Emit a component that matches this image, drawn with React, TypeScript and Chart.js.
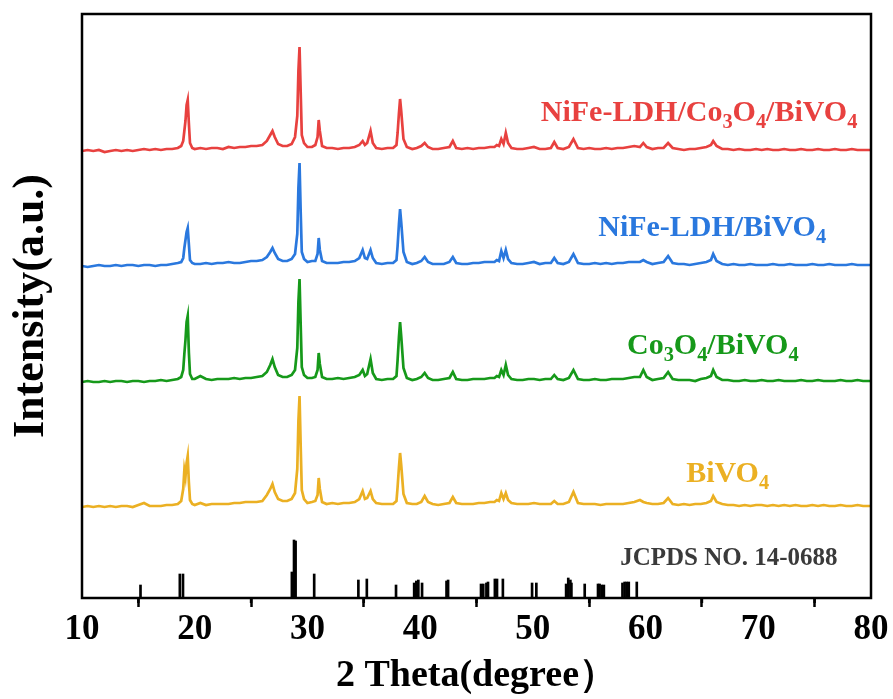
import { useEffect, useRef } from "react";
import { Chart, registerables } from "chart.js";

Chart.register(...registerables);

// 2θ grid (degrees), shared by all four patterns
const theta = [
  10, 10.5, 11, 11.5, 12, 12.5, 13, 13.5, 14, 14.5, 15, 15.5, 16, 16.5, 17, 17.5, 18,
  18.5, 18.8, 18.98, 19.08, 19.18, 19.28, 19.38, 19.48, 19.58, 19.78,
  20, 20.5, 21, 21.5, 22, 22.5, 23, 23.5, 24, 24.5, 25, 25.5, 26,
  26.4, 26.7, 26.9, 27.1, 27.4, 27.8, 28.2, 28.6,
  28.9, 29.1, 29.2, 29.3, 29.4, 29.5, 29.7,
  30.0, 30.4, 30.7, 30.9, 31.0, 31.1, 31.3,
  31.7, 32.2, 32.7, 33.2, 33.7, 34.2, 34.6,
  34.9, 35.1, 35.3, 35.6, 35.8, 36.1,
  36.6, 37.1, 37.6, 37.9,
  38.0, 38.12, 38.22, 38.32, 38.52, 38.82,
  39.3, 39.7, 40.1, 40.4, 40.7, 41.1,
  41.6, 42.1, 42.6, 42.9, 43.2,
  43.7, 44.2, 44.7, 45.2, 45.7, 46.2, 46.6,
  46.8, 47.0, 47.2, 47.4, 47.6, 47.8, 48.1,
  48.6, 49.1, 49.6, 50.1, 50.6, 51.1, 51.6,
  51.9, 52.2, 52.7, 53.2, 53.6, 54.0,
  54.5, 55.0, 55.5, 56.0, 56.5, 57.0, 57.5, 58.0, 58.5, 59.0, 59.5,
  59.8, 60.1, 60.6, 61.1, 61.6, 62.0, 62.4,
  62.9, 63.4, 63.9, 64.4, 64.9, 65.4, 65.8,
  66.0, 66.3, 66.8,
  67.3, 67.8, 68.3, 68.8, 69.3, 69.8, 70.3, 70.8, 71.3, 71.8, 72.3, 72.8, 73.3, 73.8, 74.3, 74.8, 75.3, 75.8, 76.3, 76.8, 77.3, 77.8, 78.3, 78.8, 79.3,
  79.7, 80,
];

// intensities (a.u.), each relative to its own pattern baseline
const intensityNiFeCoBi = [
  0, 1, 0, 1, -1, 0, 1, 0, 1, 0, 1, 2, 1, 2, 1, 2, 2,
  3, 5, 10, 20, 30, 46, 51, 28, 8, 3,
  2, 3, 2, 3, 3, 2, 4, 3, 4, 4, 5, 5, 6,
  10, 16, 20, 14, 7, 5, 5, 7,
  14, 35, 80, 104, 60, 16, 8,
  4, 4, 6, 14, 31, 20, 5,
  3, 3, 2, 3, 3, 4, 6,
  10, 6, 8, 20, 8, 3,
  2, 3, 3, 6,
  18, 38, 52, 40, 12, 4,
  2, 3, 5, 8, 4, 2,
  2, 3, 4, 10, 3,
  2, 3, 2, 3, 3, 4, 4,
  6, 5, 12, 7, 18, 8, 3,
  2, 2, 3, 4, 2, 2, 3,
  9, 3, 2, 4, 12, 3,
  2, 3, 2, 2, 3, 2, 3, 3, 4, 5, 4,
  8, 4, 2, 3, 3, 8, 3,
  2, 1, 2, 2, 3, 4, 6,
  10, 5, 2,
  2, 1, 2, 1, 1, 2, 1, 2, 1, 1, 2, 1, 1, 2, 1, 1, 2, 1, 1, 2, 1, 1, 2, 1, 1,
  1, 1,
];

const intensityNiFeBi = [
  0, -1, 0, 1, 0, 0, 1, 0, 1, 1, 0, 1, 1, 0, 1, 1, 2,
  3, 4, 8, 18, 26, 34, 38, 22, 6, 3,
  2, 2, 3, 2, 3, 3, 4, 3, 3, 4, 5, 5, 6,
  9, 14, 18, 13, 7, 5, 5, 7,
  12, 32, 78, 103, 55, 14, 7,
  4, 5, 5, 12, 28, 16, 5,
  3, 3, 3, 4, 4, 5, 8,
  16, 8, 7, 16, 8, 3,
  2, 3, 3, 6,
  20, 42, 57, 44, 14, 4,
  2, 3, 5, 9, 4, 2,
  2, 2, 4, 9, 3,
  2, 2, 3, 3, 4, 4, 4,
  6, 5, 15, 8, 16, 7, 3,
  2, 2, 3, 4, 2, 3, 3,
  8, 3, 2, 4, 12, 3,
  2, 2, 3, 2, 3, 2, 3, 3, 4, 4, 4,
  6, 4, 2, 3, 4, 10, 3,
  2, 2, 1, 2, 3, 4, 6,
  12, 5, 2,
  1, 2, 1, 1, 2, 1, 1, 1, 2, 1, 1, 2, 1, 1, 1, 2, 1, 1, 2, 1, 1, 1, 2, 1, 1,
  1, 1,
];

const intensityCoBi = [
  0, 1, 0, 0, 1, 0, 1, 1, 0, 1, 1, 0, 1, 1, 2, 1, 2,
  3, 5, 12, 28, 42, 60, 66, 30, 8, 3,
  3, 6, 3, 2, 3, 3, 3, 4, 3, 4, 4, 5, 6,
  10, 17, 23, 15, 7, 5, 5, 7,
  12, 34, 80, 103, 58, 15, 7,
  4, 4, 5, 12, 29, 18, 5,
  3, 3, 4, 3, 4, 5, 7,
  12, 6, 8, 23, 9, 3,
  2, 3, 3, 6,
  22, 45, 60, 46, 14, 4,
  2, 3, 5, 9, 4, 2,
  2, 3, 4, 10, 3,
  2, 2, 3, 3, 3, 4, 4,
  6, 5, 12, 7, 17, 7, 3,
  2, 2, 3, 3, 2, 3, 3,
  7, 3, 2, 4, 12, 3,
  2, 2, 3, 2, 2, 3, 3, 3, 4, 5, 5,
  12, 5, 2, 3, 4, 10, 3,
  2, 2, 2, 1, 3, 4, 6,
  12, 5, 2,
  2, 1, 1, 2, 1, 1, 2, 1, 1, 2, 1, 1, 1, 2, 1, 1, 2, 1, 1, 1, 2, 1, 1, 2, 1,
  1, 1,
];

const intensityBi = [
  0, 1, 0, 1, 0, 1, 0, 1, 1, 0, 2, 4, 1, 1, 1, 2, 2,
  3, 6, 18, 37, 30, 44, 51, 25, 7, 3,
  2, 4, 2, 3, 3, 3, 3, 4, 4, 5, 5, 5, 6,
  12, 18, 23, 15, 8, 6, 6, 8,
  14, 38, 86, 111, 62, 17, 8,
  4, 5, 6, 12, 29, 18, 5,
  3, 4, 3, 4, 4, 5, 8,
  16, 8, 9, 16, 8, 4,
  3, 3, 3, 6,
  20, 40, 54, 42, 13, 4,
  3, 3, 5, 11, 5, 3,
  2, 3, 4, 10, 4,
  3, 3, 3, 4, 4, 5, 5,
  7, 6, 14, 8, 14, 7, 4,
  3, 3, 3, 4, 3, 3, 3,
  6, 3, 3, 5, 15, 4,
  3, 3, 3, 2, 3, 3, 3, 3, 4, 5, 7,
  5, 4, 3, 3, 4, 9, 3,
  2, 3, 2, 3, 3, 4, 6,
  11, 5, 3,
  2, 2, 1, 2, 1, 2, 2, 1, 2, 1, 2, 1, 2, 1, 1, 2, 1, 2, 1, 1, 2, 1, 1, 2, 1,
  1, 1,
];

// vertical stacking offsets of the patterns
const stackOffsets = [447, 332, 216, 91];
const seriesNames = ["NiFe-LDH/Co_3O_4/BiVO_4", "NiFe-LDH/BiVO_4", "Co_3O_4/BiVO_4", "BiVO_4"];
const seriesColors = ["#E8413F", "#2A78DE", "#16991A", "#EBB023"];
// label anchors in data coordinates [2θ, intensity]
const labelTheta = [50.7, 55.8, 58.35, 63.6];
const labelValue = [477, 362, 244, 116];

// JCPDS No. 14-0688 reference pattern
const refTheta = [
  15.19, 18.68, 18.96, 28.62, 28.81, 28.95, 30.6, 34.52, 35.27, 37.86,
  39.47, 39.66, 39.84, 40.17, 42.34, 42.48, 45.4, 45.6, 45.88, 46.02,
  46.63, 46.82, 47.34, 49.93, 50.31, 52.95, 53.14, 53.33, 53.42, 54.6,
  55.78, 55.92, 56.11, 56.3, 57.95, 58.14, 58.33, 58.51, 59.22,
];
const refIntensity = [
  13, 24, 24, 26, 58, 57, 24, 18, 19, 13,
  15, 17, 18, 15, 17, 18, 14, 14, 15, 16,
  19, 19, 19, 15, 15, 14, 20, 18, 15, 14,
  14, 14, 13, 13, 15, 16, 16, 16, 16,
];
const refLabel = "JCPDS NO. 14-0688";
const refLabelTheta = 57.75;
const refLabelValue = 33;

const xMin = 10;
const xMax = 80;
const xMajorTicks = [10, 20, 30, 40, 50, 60, 70, 80];
const xMinorTicks = [15, 25, 35, 45, 55, 65, 75];
const yMax = 584;

const SERIF = '"Liberation Serif", "Times New Roman", serif';

function drawRich(ctx: CanvasRenderingContext2D, text: string, x: number, y: number, size: number) {
  const runs: { t: string; sub: boolean }[] = [];
  let i = 0;
  while (i < text.length) {
    if (text[i] === "_") {
      runs.push({ t: text[i + 1], sub: true });
      i += 2;
    } else {
      let j = i;
      while (j < text.length && text[j] !== "_") j++;
      runs.push({ t: text.slice(i, j), sub: false });
      i = j;
    }
  }
  let cx = x;
  for (const r of runs) {
    const fs = r.sub ? size * 0.68 : size;
    ctx.font = `bold ${fs}px ${SERIF}`;
    ctx.fillText(r.t, cx, r.sub ? y + size * 0.22 : y);
    cx += ctx.measureText(r.t).width;
  }
}

export default function App() {
  const ref = useRef<HTMLCanvasElement | null>(null);

  useEffect(() => {
    if (!ref.current) return;
    const patterns = [intensityNiFeCoBi, intensityNiFeBi, intensityCoBi, intensityBi];

    const framePlugin = {
      id: "frame",
      afterDraw(chart: any) {
        const { ctx, chartArea } = chart;
        const xs = chart.scales.x;
        ctx.save();
        ctx.strokeStyle = "#000";
        ctx.lineWidth = 2.5;
        ctx.strokeRect(chartArea.left, chartArea.top, chartArea.right - chartArea.left, chartArea.bottom - chartArea.top);
        ctx.beginPath();
        for (const v of xMinorTicks) {
          const px = xs.getPixelForValue(v);
          ctx.moveTo(px, chartArea.bottom);
          ctx.lineTo(px, chartArea.bottom + 5);
        }
        ctx.stroke();
        ctx.restore();
      },
    };

    const labelPlugin = {
      id: "seriesLabels",
      afterDatasetsDraw(chart: any) {
        const { ctx } = chart;
        const xs = chart.scales.x;
        const ys = chart.scales.y;
        ctx.save();
        ctx.textAlign = "left";
        ctx.textBaseline = "alphabetic";
        seriesNames.forEach((name, k) => {
          ctx.fillStyle = seriesColors[k];
          drawRich(ctx, name, xs.getPixelForValue(labelTheta[k]), ys.getPixelForValue(labelValue[k]), 30);
        });
        ctx.fillStyle = "#3a3a3a";
        ctx.font = `bold 25px ${SERIF}`;
        ctx.fillText(refLabel, xs.getPixelForValue(refLabelTheta), ys.getPixelForValue(refLabelValue));
        ctx.restore();
      },
    };

    const chart = new Chart(ref.current, {
      type: "line",
      data: {
        datasets: [
          ...patterns.map((vals, k) => ({
            type: "line" as const,
            label: seriesNames[k],
            data: theta.map((t, i) => ({ x: t, y: vals[i] + stackOffsets[k] })),
            borderColor: seriesColors[k],
            borderWidth: 2.7,
            pointRadius: 0,
            tension: 0,
            fill: false,
          })),
          {
            type: "bar" as const,
            label: refLabel,
            data: refTheta.map((t, i) => ({ x: t, y: refIntensity[i] })),
            backgroundColor: "#000",
            borderWidth: 0,
            barThickness: 2,
            grouped: false,
          } as any,
        ],
      },
      options: {
        animation: false,
        responsive: false,
        layout: { padding: { top: 14, right: 22, left: 0, bottom: 0 } },
        plugins: { legend: { display: false }, tooltip: { enabled: false } },
        scales: {
          x: {
            type: "linear",
            min: xMin,
            max: xMax,
            offset: false,
            afterBuildTicks: (s: any) => {
              s.ticks = xMajorTicks.map((v) => ({ value: v }));
            },
            ticks: {
              color: "#000",
              padding: 2,
              font: { family: SERIF, size: 35, weight: "bold" },
              maxRotation: 0,
              autoSkip: false,
            },
            grid: { drawOnChartArea: false, tickLength: 9, tickWidth: 2.5, tickColor: "#000" },
            border: { display: false },
            title: {
              display: true,
              text: "2 Theta(degree）",
              color: "#000",
              font: { family: SERIF, size: 38, weight: "bold" },
              padding: { top: 0, bottom: 0 },
            },
            afterFit: (s: any) => {
              s.height = 101;
            },
          },
          y: {
            min: 0,
            max: yMax,
            ticks: { display: false },
            grid: { display: false },
            border: { display: false },
            title: {
              display: true,
              text: "Intensity(a.u.)",
              color: "#000",
              font: { family: SERIF, size: 44, weight: "bold" },
              padding: { top: 5, bottom: 0 },
            },
            afterFit: (s: any) => {
              s.width = 82;
            },
          },
        },
      } as any,
      plugins: [framePlugin, labelPlugin],
    });
    return () => chart.destroy();
  }, []);

  return (
    <div style={{ position: "absolute", left: 0, top: 0, width: 893, height: 699, background: "#fff" }}>
      <canvas ref={ref} width={893} height={699} />
    </div>
  );
}
